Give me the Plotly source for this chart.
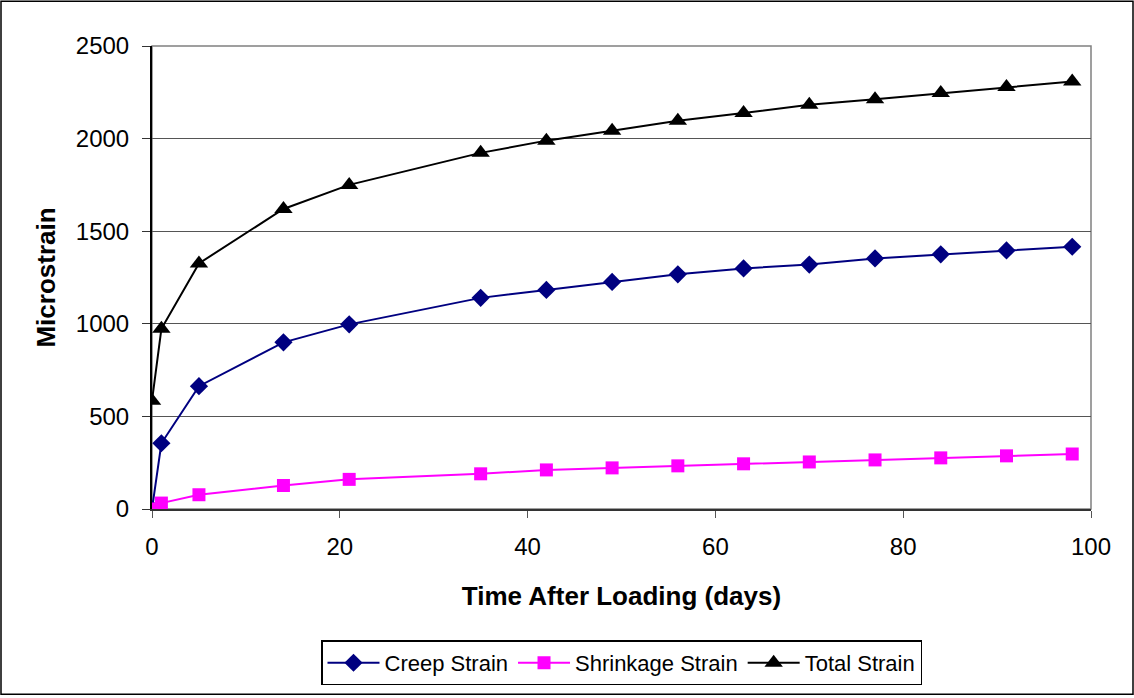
import plotly.graph_objects as go

# Time after loading (days)
days = [0, 1, 5, 14, 21, 35, 42, 49, 56, 63, 70, 77, 84, 91, 98]

# Strains in microstrain
creep_strain = [0, 355, 663, 900, 997, 1140, 1183, 1226, 1267, 1299, 1320, 1353, 1375, 1396, 1416]
shrinkage_strain = [0, 32, 77, 127, 160, 190, 211, 222, 233, 244, 254, 265, 276, 287, 297]
total_strain = [585, 973, 1326, 1620, 1750, 1923, 1989, 2043, 2097, 2138, 2183, 2213, 2246, 2278, 2308]

x_ticks = [0, 20, 40, 60, 80, 100]
y_ticks = [0, 500, 1000, 1500, 2000, 2500]

W, H = 1134, 698
L, R, T, B = 152, 43, 46, 187
pw, ph = W - L - R, H - T - B

fig = go.Figure()
fig.add_trace(go.Scatter(
    x=days, y=creep_strain, name="Creep Strain", mode="lines+markers",
    line=dict(color="#000080", width=2),
    marker=dict(symbol="diamond", size=14, color="#000080"),
))
fig.add_trace(go.Scatter(
    x=days, y=shrinkage_strain, name="Shrinkage Strain", mode="lines+markers",
    line=dict(color="#FF00FF", width=2),
    marker=dict(symbol="square", size=13, color="#FF00FF"),
))
fig.add_trace(go.Scatter(
    x=days, y=total_strain, name="Total Strain", mode="lines+markers",
    line=dict(color="#000000", width=2),
    marker=dict(symbol="triangle-up", size=16, color="#000000"),
))

font_family = "Liberation Sans, Arial, sans-serif"

# plot-area frame and outer chart border
fig.add_shape(type="rect", xref="paper", yref="paper", x0=0, x1=1, y0=0, y1=1,
              line=dict(color="#808080", width=1.5), layer="below")
fig.add_shape(type="rect", xref="paper", yref="paper",
              x0=-(L - 1) / pw, x1=1 + (R - 1) / pw,
              y0=-(B - 1) / ph, y1=1 + (T - 1) / ph,
              line=dict(color="#000000", width=1.5))

fig.update_layout(
    width=W, height=H,
    margin=dict(l=L, r=R, t=T, b=B),
    paper_bgcolor="white", plot_bgcolor="white",
    font=dict(family=font_family, size=24, color="black"),
    showlegend=True,
    legend=dict(
        orientation="h", x=0.5, xanchor="center", y=-(643 - 511) / ph, yanchor="top",
        bordercolor="black", borderwidth=1.5, bgcolor="white",
        font=dict(size=22, family=font_family), itemwidth=52,
    ),
    xaxis=dict(
        range=[0, 100], tickvals=x_ticks, ticks="outside", ticklen=7,
        tickcolor="#555555", showline=True, linecolor="#333333", linewidth=2,
        showgrid=False, zeroline=False, ticklabelstandoff=8,
        title=dict(text="<b>Time After Loading (days)</b>", font=dict(size=26), standoff=28),
    ),
    yaxis=dict(
        range=[0, 2500], tickvals=y_ticks, ticks="outside", ticklen=8,
        tickcolor="#333333", showline=True, linecolor="#000000", linewidth=2,
        showgrid=True, gridcolor="#555555", gridwidth=1, zeroline=False,
        ticklabelstandoff=8,
        title=dict(text="<b>Microstrain</b>", font=dict(size=26), standoff=13),
    ),
)

fig.write_html("out.html")
